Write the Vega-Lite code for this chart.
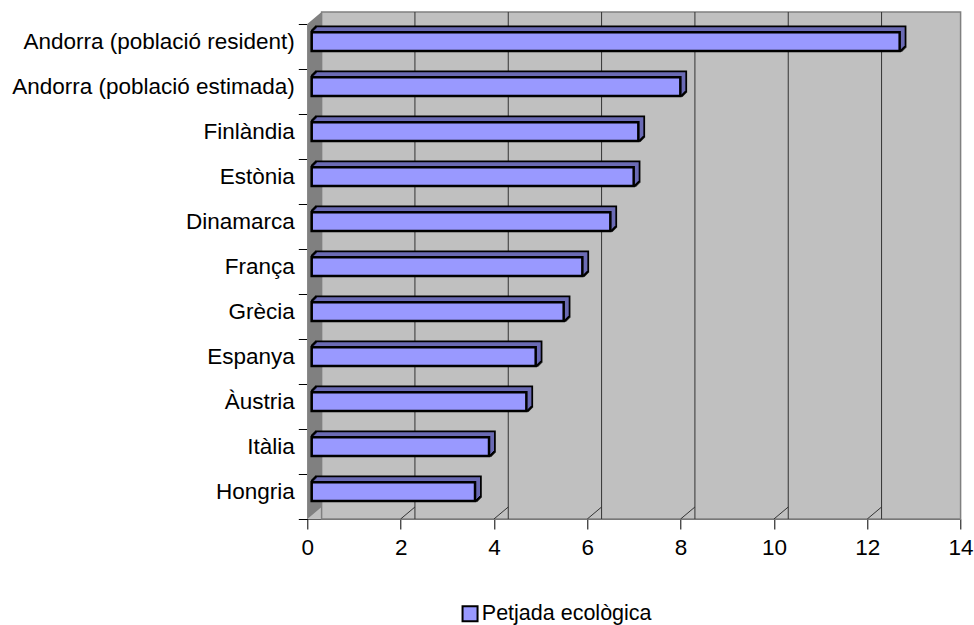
{
  "$schema": "https://vega.github.io/schema/vega-lite/v6.json",
  "width": 653.3,
  "height": 495,
  "autosize": {"type": "none"},
  "padding": {"left": 307.3, "top": 24, "right": 13.4, "bottom": 106},
  "background": "white",
  "view": {"stroke": null},
  "config": {
    "font": "Liberation Sans",
    "axis": {"labelFont": "Liberation Sans", "labelColor": "black", "labelFontSize": 22.5, "labelLimit": 500, "title": null, "grid": false}
  },
  "data": {
    "values": [
      {"pais": "Andorra (població resident)", "valor": 12.6},
      {"pais": "Andorra (població estimada)", "valor": 7.9},
      {"pais": "Finlàndia", "valor": 7.0},
      {"pais": "Estònia", "valor": 6.9},
      {"pais": "Dinamarca", "valor": 6.4},
      {"pais": "França", "valor": 5.8},
      {"pais": "Grècia", "valor": 5.4},
      {"pais": "Espanya", "valor": 4.8},
      {"pais": "Àustria", "valor": 4.6},
      {"pais": "Itàlia", "valor": 3.8},
      {"pais": "Hongria", "valor": 3.5}
    ]
  },
  "encoding": {
    "y": {
      "field": "pais",
      "type": "nominal",
      "sort": null,
      "title": null,
      "scale": {"paddingInner": 0, "paddingOuter": 0},
      "axis": {
        "tickBand": "extent",
        "tickSize": 9,
        "tickColor": "black",
        "domainColor": "black",
        "labelPadding": 4,
        "labelOffset": -5
      }
    }
  },
  "layer": [
    {
      "data": {"values": [{}]},
      "mark": {"type": "rect", "fill": "#C0C0C0"},
      "encoding": {
        "y": null,
        "x": {"datum": 0, "type": "quantitative", "title": null, "scale": {"domain": [0, 14], "nice": false},
          "axis": {"values": [0, 2, 4, 6, 8, 10, 12, 14], "tickSize": 10, "tickColor": "black", "domainColor": "#606060", "labelPadding": 7, "labelFlush": false}},
        "x2": {"datum": 14}
      }
    },
    {
      "data": {"values": [{}]},
      "mark": {"type": "rect", "fill": "#C0C0C0", "stroke": "#808080", "strokeWidth": 1.5, "xOffset": 14.3, "yOffset": -12},
      "encoding": {
        "y": null,
        "x": {"datum": 0, "type": "quantitative", "title": null},
        "x2": {"datum": 14}
      }
    },
    {
      "data": {"values": [{}]},
      "mark": {"type": "point", "shape": "M0,-247.5L14.3,-259.5L14.3,235.5L0,247.5Z", "size": 4, "filled": true, "fill": "#808080", "strokeWidth": 0, "opacity": 1},
      "encoding": {
        "y": null,
        "x": {"datum": 0, "type": "quantitative", "title": null}
      }
    },
    {
      "data": {"values": [{"v": 2}, {"v": 4}, {"v": 6}, {"v": 8}, {"v": 10}, {"v": 12}]},
      "mark": {"type": "point", "shape": "M0,247.5L14.3,235.5", "size": 4, "filled": false, "stroke": "#333333", "strokeWidth": 1, "opacity": 1},
      "encoding": {
        "y": null,
        "x": {"field": "v", "type": "quantitative", "title": null}
      }
    },
    {
      "data": {"values": [{"v": 2}, {"v": 4}, {"v": 6}, {"v": 8}, {"v": 10}, {"v": 12}]},
      "mark": {"type": "rule", "stroke": "#333333", "strokeWidth": 1, "xOffset": 14.3, "yOffset": -12},
      "encoding": {
        "y": null,
        "x": {"field": "v", "type": "quantitative", "title": null}
      }
    },
    {
      "mark": {"type": "bar", "height": {"band": 0.415}, "fill": "black", "stroke": "black", "strokeWidth": 3.5, "xOffset": 9.4, "yOffset": -9.8},
      "encoding": {"x": {"field": "valor", "type": "quantitative", "title": null}}
    },
    {
      "mark": {"type": "bar", "height": {"band": 0.415}, "fill": "black", "stroke": "black", "strokeWidth": 3.5, "xOffset": 8.4, "yOffset": -8.8},
      "encoding": {"x": {"field": "valor", "type": "quantitative", "title": null}}
    },
    {
      "mark": {"type": "bar", "height": {"band": 0.415}, "fill": "black", "stroke": "black", "strokeWidth": 3.5, "xOffset": 7.4, "yOffset": -7.8},
      "encoding": {"x": {"field": "valor", "type": "quantitative", "title": null}}
    },
    {
      "mark": {"type": "bar", "height": {"band": 0.415}, "fill": "black", "stroke": "black", "strokeWidth": 3.5, "xOffset": 6.4, "yOffset": -6.8},
      "encoding": {"x": {"field": "valor", "type": "quantitative", "title": null}}
    },
    {
      "mark": {"type": "bar", "height": {"band": 0.415}, "fill": "black", "stroke": "black", "strokeWidth": 3.5, "xOffset": 5.4, "yOffset": -5.8},
      "encoding": {"x": {"field": "valor", "type": "quantitative", "title": null}}
    },
    {
      "mark": {"type": "bar", "height": {"band": 0.415}, "fill": "#6B6BB5", "xOffset": 9.4, "yOffset": -9.8},
      "encoding": {"x": {"field": "valor", "type": "quantitative", "title": null}}
    },
    {
      "mark": {"type": "bar", "height": {"band": 0.415}, "fill": "#6B6BB5", "xOffset": 8.4, "yOffset": -8.8},
      "encoding": {"x": {"field": "valor", "type": "quantitative", "title": null}}
    },
    {
      "mark": {"type": "bar", "height": {"band": 0.415}, "fill": "#6B6BB5", "xOffset": 7.4, "yOffset": -7.8},
      "encoding": {"x": {"field": "valor", "type": "quantitative", "title": null}}
    },
    {
      "mark": {"type": "bar", "height": {"band": 0.415}, "fill": "#6B6BB5", "xOffset": 6.4, "yOffset": -6.8},
      "encoding": {"x": {"field": "valor", "type": "quantitative", "title": null}}
    },
    {
      "mark": {"type": "bar", "height": {"band": 0.415}, "fill": "#6B6BB5", "xOffset": 5.4, "yOffset": -5.8},
      "encoding": {"x": {"field": "valor", "type": "quantitative", "title": null}}
    },
    {
      "mark": {"type": "bar", "height": {"band": 0.415}, "stroke": "black", "strokeWidth": 2.5, "xOffset": 4.4, "yOffset": -4.8, "opacity": 1},
      "encoding": {
        "x": {"field": "valor", "type": "quantitative", "title": null},
        "color": {
          "datum": "Petjada ecològica",
          "type": "nominal",
          "scale": {"range": ["#9999FF"]},
          "legend": {
            "orient": "none",
            "legendX": 152,
            "legendY": 579,
            "title": null,
            "padding": 0,
            "symbolType": "square",
            "symbolSize": 225,
            "symbolStrokeColor": "black",
            "symbolStrokeWidth": 2,
            "symbolOpacity": 1,
            "labelFont": "Liberation Sans",
            "labelFontSize": 21.5,
            "labelColor": "black",
            "labelOffset": 1,
            "labelLimit": 400
          }
        }
      }
    }
  ]
}
